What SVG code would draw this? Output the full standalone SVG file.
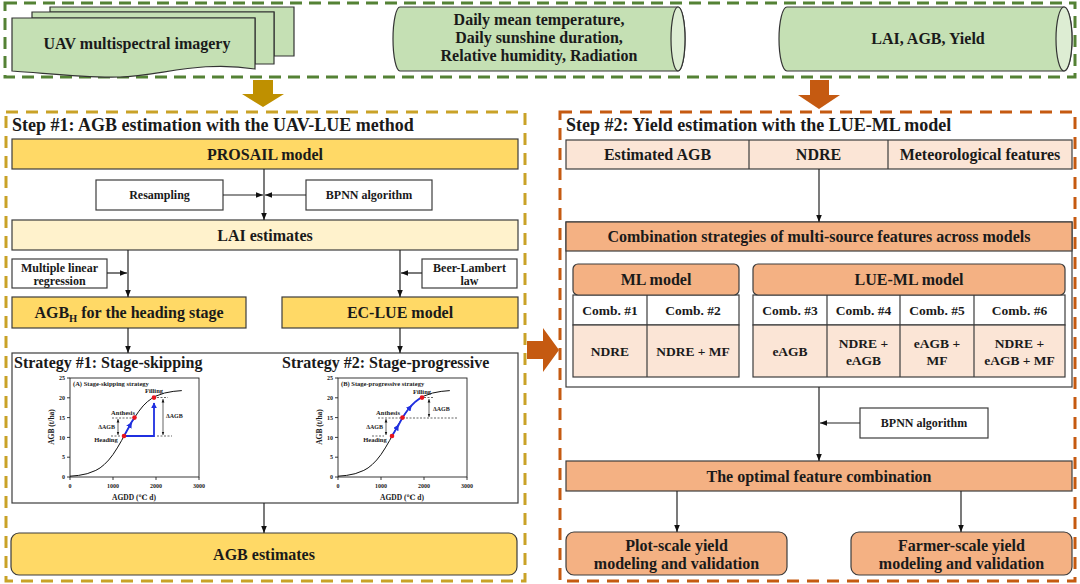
<svg xmlns="http://www.w3.org/2000/svg" width="1080" height="584" viewBox="0 0 1080 584">
<style>
.f{font-family:"Liberation Serif","DejaVu Serif",serif;font-weight:bold;fill:#1a1a1a}
.c{text-anchor:middle}
.e{text-anchor:end}
.s17{font-size:18px}.s16{font-size:16px}.s15{font-size:16px}.s14{font-size:14px}.s13{font-size:13.5px}.s12{font-size:12px}.s11{font-size:12px}
.s7{font-size:7.5px}.s6{font-size:6.5px}.s5{font-size:6px}
.bx{stroke:#3c3c3c;stroke-width:1.2}
.yel{fill:#FFD966}.lyel{fill:#FFF2CC}.pch{fill:#FBE5D6}.org{fill:#F4B183}.wht{fill:#fff}.grn{fill:#C5E0B4}
.conn{stroke:#222;stroke-width:1.2;fill:none;marker-end:url(#ah)}
.ax{stroke:#222;stroke-width:0.9;fill:none}
.dsh{stroke:#222;stroke-width:0.7;stroke-dasharray:2 1.5;fill:none}
.dbl{stroke:#222;stroke-width:0.7;fill:none;marker-start:url(#ahs);marker-end:url(#ahs)}
.blu{stroke:#1f2fe0;stroke-width:1.8;fill:none}
.red{fill:#e8141e}
</style>
<defs>
<marker id="ah" viewBox="0 0 10 10" refX="10" refY="5" markerWidth="7" markerHeight="7" markerUnits="userSpaceOnUse" orient="auto-start-reverse"><path d="M0,1 L10,5 L0,9 Z" fill="#111"/></marker>
<marker id="ahs" viewBox="0 0 10 10" refX="10" refY="5" markerWidth="3.5" markerHeight="3.5" markerUnits="userSpaceOnUse" orient="auto-start-reverse"><path d="M0,1 L10,5 L0,9 Z" fill="#111"/></marker>
<marker id="ahb" viewBox="0 0 10 10" refX="9" refY="5" markerWidth="6" markerHeight="6" markerUnits="userSpaceOnUse" orient="auto"><path d="M0,0 L10,5 L0,10 Z" fill="#1f2fe0"/></marker>
<g id="chartBase">
<rect x="70" y="378" width="129" height="99" class="ax"/>
<path class="ax" d="M67,477H70M67,457.2H70M67,437.4H70M67,417.6H70M67,397.8H70M67,378H70M70,477V480M113,477V480M156,477V480M199,477V480"/>
<g class="f s5 e"><text x="65" y="479">0</text><text x="65" y="459">5</text><text x="65" y="439.5">10</text><text x="65" y="420">15</text><text x="65" y="400">20</text><text x="65" y="380">25</text></g>
<g class="f s5 c"><text x="70" y="488">0</text><text x="113" y="488">1000</text><text x="156" y="488">2000</text><text x="199" y="488">3000</text></g>
<text class="f s7 c" x="134" y="500">AGDD (℃ d)</text>
<text class="f s7 c" transform="translate(54,427) rotate(-90)">AGB (t/ha)</text>
<path d="M70,476.2 L78.6,475.4 87.2,473.7 95.8,470.4 100.1,467.9 104.4,464.4 108.7,460 113,454.5 117.3,447.9 121.6,440.5 125.9,432.6 130.2,424.8 134.5,417.6 138.8,411.3 143.1,405.9 147.4,401.7 151.7,398.5 156,396 164.6,393 173.2,391.4 181.8,390.6" fill="none" stroke="#111" stroke-width="1"/>
</g>
</defs>

<!-- top input band -->
<rect x="5" y="3" width="1070" height="74" fill="none" stroke="#548235" stroke-width="3" stroke-dasharray="12 7"/>
<g id="uav">
<path class="grn" stroke="#333" stroke-width="1.2" d="M50,7 H294 V56 H274 V12 H50 Z"/>
<path class="grn" stroke="#333" stroke-width="1.2" d="M32,12 H274 V64 H255 V18 H32 Z"/>
<path class="grn" stroke="#333" stroke-width="1.2" d="M12,18 H255 V69 C200,60 160,76 120,77 C80,78 45,73 12,71 Z"/>
<text class="f s15 c" x="137" y="49">UAV multispectral imagery</text>
</g>
<g id="meteo">
<path class="grn" stroke="#333" stroke-width="1.2" d="M400,7 H678 A7,32 0 0 1 678,71 H400 A7,32 0 0 1 400,7 Z"/>
<ellipse cx="678" cy="39" rx="7" ry="32" fill="#DDEDD3" stroke="#333" stroke-width="1.2"/>
<text class="f s15 c" x="539" y="25">Daily mean temperature,</text>
<text class="f s15 c" x="539" y="43">Daily sunshine duration,</text>
<text class="f s15 c" x="539" y="61">Relative humidity, Radiation</text>
</g>
<g id="field">
<path class="grn" stroke="#333" stroke-width="1.2" d="M787,7 H1064 A8,32 0 0 1 1064,71 H787 A8,32 0 0 1 787,7 Z"/>
<ellipse cx="1064" cy="39" rx="8" ry="32" fill="#DDEDD3" stroke="#333" stroke-width="1.2"/>
<text class="f s15 c" x="928" y="44">LAI, AGB, Yield</text>
</g>
<polygon points="253,80 273,80 273,94 284,94 263,107 242,94 253,94" fill="#BF9000"/>
<polygon points="810,80 829,80 829,95 840,95 819,109 798,95 810,95" fill="#C55A11"/>
<polygon points="527,341 543,341 543,328 559,350 543,372 543,359 527,359" fill="#C55A11"/>

<!-- Step 1 -->
<rect x="6" y="112" width="519" height="469" fill="none" stroke="#C9A227" stroke-width="3" stroke-dasharray="12 8"/>
<text class="f s17" x="12" y="131">Step #1: AGB estimation with the UAV-LUE method</text>
<g id="prosail"><rect class="bx yel" x="12" y="139" width="506" height="30"/><text class="f s15 c" x="265" y="159.5">PROSAIL model</text></g>
<g id="resampling"><rect class="bx wht" x="96" y="180" width="127" height="30"/><text class="f s12 c" x="159.5" y="199">Resampling</text></g>
<g id="bpnn1"><rect class="bx wht" x="306" y="180" width="126" height="30"/><text class="f s12 c" x="369" y="199">BPNN algorithm</text></g>
<g id="lai"><rect class="bx lyel" x="12" y="220" width="506" height="30"/><text class="f s15 c" x="265" y="240.5">LAI estimates</text></g>
<g id="mlr"><rect class="bx wht" x="12" y="259" width="95" height="29"/><text class="f s11 c" x="59.5" y="272">Multiple linear</text><text class="f s11 c" x="59.5" y="285">regression</text></g>
<g id="beer"><rect class="bx wht" x="422" y="259" width="95" height="29"/><text class="f s11 c" x="469.5" y="272">Beer-Lambert</text><text class="f s11 c" x="469.5" y="285">law</text></g>
<g id="agbh"><rect class="bx yel" x="12" y="297" width="234" height="31"/><text class="f s15 c" x="129" y="318">AGB<tspan font-size="10.5" dy="4">H</tspan><tspan dy="-4"> for the heading stage</tspan></text></g>
<g id="eclue"><rect class="bx yel" x="282" y="297" width="236" height="31"/><text class="f s15 c" x="400" y="318">EC-LUE model</text></g>
<g id="strategies">
<rect class="bx wht" x="12" y="353" width="506" height="150"/>
<text class="f s16" x="14" y="368">Strategy #1: Stage-skipping</text>
<text class="f s16" x="282" y="368">Strategy #2: Stage-progressive</text>
<g id="chartA">
<use href="#chartBase"/>
<text class="f s6" x="73" y="386">(A) Stage-skipping strategy</text>
<path class="dsh" d="M112,418H133M111,436H121M157,397.5H168M157,436H172"/>
<line class="dbl" x1="118" y1="419" x2="118" y2="435"/>
<line class="dbl" x1="163" y1="399" x2="163" y2="435"/>
<text class="f s5 e" x="115" y="429">ΔAGB</text>
<text class="f s5" x="166" y="418">ΔAGB</text>
<path class="blu" d="M125,436H154V403" marker-end="url(#ahb)"/>
<line class="blu" x1="124" y1="436" x2="131.5" y2="422.5" marker-end="url(#ahb)"/>
<line class="blu" x1="131" y1="423" x2="134.5" y2="417.6"/>
<circle class="red" cx="124" cy="436" r="2.3"/><circle class="red" cx="134.5" cy="417.6" r="2.3"/><circle class="red" cx="154" cy="397.6" r="2.3"/>
<text class="f s6 c" x="154" y="393">Filling</text>
<text class="f s6 c" x="123" y="415">Anthesis</text>
<text class="f s6 c" x="106" y="442">Heading</text>
</g>
<g id="chartB">
<use href="#chartBase" transform="translate(268,0)"/>
<text class="f s6" x="341" y="386">(B) Stage-progressive strategy</text>
<path class="dsh" d="M378,418H458M372,436H384M424,397.5H434"/>
<line class="dbl" x1="386" y1="419" x2="386" y2="435"/>
<line class="dbl" x1="429" y1="399" x2="429" y2="417"/>
<text class="f s5 e" x="383" y="429">ΔAGB</text>
<text class="f s5" x="433" y="411">ΔAGB</text>
<line class="blu" x1="392" y1="436" x2="398.5" y2="425" marker-end="url(#ahb)"/>
<line class="blu" x1="398" y1="426" x2="402.5" y2="417.6"/>
<path class="blu" d="M402.5,417.6 L406.8,411.3 411.5,405.5" marker-end="url(#ahb)"/>
<path class="blu" d="M411,406 L415.4,401.7 419.7,398.5 422,397.4"/>
<circle class="red" cx="392" cy="436" r="2.3"/><circle class="red" cx="402.5" cy="417.6" r="2.3"/><circle class="red" cx="422" cy="397.6" r="2.3"/>
<text class="f s6 c" x="422" y="394">Filling</text>
<text class="f s6 c" x="388" y="415">Anthesis</text>
<text class="f s6 c" x="375" y="442">Heading</text>
</g>
</g>
<g id="agbest"><rect class="bx yel" x="11" y="533" width="506" height="42" rx="8"/><text class="f s15 c" x="264" y="559.5">AGB estimates</text></g>

<!-- Step 2 -->
<rect x="560" y="112" width="515" height="469" fill="none" stroke="#C55A11" stroke-width="3" stroke-dasharray="12 8"/>
<text class="f s17" x="566" y="131">Step #2: Yield estimation with the LUE-ML model</text>
<g id="features">
<rect class="bx pch" x="566" y="140" width="506" height="29"/>
<line class="bx" x1="749" y1="140" x2="749" y2="169"/><line class="bx" x1="888" y1="140" x2="888" y2="169"/>
<text class="f s15 c" x="657.5" y="160">Estimated AGB</text>
<text class="f s15 c" x="818.5" y="160">NDRE</text>
<text class="f s15 c" x="980" y="160">Meteorological features</text>
</g>
<g id="combination">
<rect class="bx wht" x="566" y="222" width="506" height="165"/>
<rect class="bx org" x="566" y="222" width="506" height="29"/>
<text class="f s15 c" x="819" y="242">Combination strategies of multi-source features across models</text>
</g>
<g id="mlmodel">
<rect class="bx wht" x="573" y="295" width="166" height="30"/>
<rect class="bx pch" x="573" y="325" width="166" height="52"/>
<line class="bx" x1="647" y1="295" x2="647" y2="377"/>
<rect class="bx org" x="573" y="264" width="166" height="31" rx="5"/>
<text class="f s15 c" x="656" y="285">ML model</text>
<text class="f s13 c" x="610" y="315">Comb. #1</text>
<text class="f s13 c" x="693" y="315">Comb. #2</text>
<text class="f s13 c" x="610" y="356">NDRE</text>
<text class="f s13 c" x="693" y="356">NDRE + MF</text>
</g>
<g id="luemlmodel">
<rect class="bx wht" x="753" y="295" width="312" height="30"/>
<rect class="bx pch" x="753" y="325" width="312" height="52"/>
<path class="bx" d="M827,295V377M900,295V377M974,295V377"/>
<rect class="bx org" x="753" y="264" width="312" height="31" rx="5"/>
<text class="f s15 c" x="909" y="285">LUE-ML model</text>
<text class="f s13 c" x="790" y="315">Comb. #3</text>
<text class="f s13 c" x="863.5" y="315">Comb. #4</text>
<text class="f s13 c" x="937" y="315">Comb. #5</text>
<text class="f s13 c" x="1019.5" y="315">Comb. #6</text>
<text class="f s13 c" x="790" y="356">eAGB</text>
<text class="f s13 c" x="863.5" y="348">NDRE +</text><text class="f s13 c" x="863.5" y="365">eAGB</text>
<text class="f s13 c" x="937" y="348">eAGB +</text><text class="f s13 c" x="937" y="365">MF</text>
<text class="f s13 c" x="1019.5" y="348">NDRE +</text><text class="f s13 c" x="1019.5" y="365">eAGB + MF</text>
</g>
<g id="bpnn2"><rect class="bx wht" x="860" y="408" width="128" height="30"/><text class="f s12 c" x="924" y="427">BPNN algorithm</text></g>
<g id="optimal"><rect class="bx org" x="566" y="461" width="506" height="30"/><text class="f s15 c" x="819" y="481.5">The optimal feature combination</text></g>
<g id="plotscale"><rect class="bx org" x="566" y="532" width="221" height="43" rx="8"/><text class="f s15 c" x="676.5" y="551">Plot-scale yield</text><text class="f s15 c" x="676.5" y="569">modeling and validation</text></g>
<g id="farmerscale"><rect class="bx org" x="851" y="532" width="221" height="43" rx="8"/><text class="f s15 c" x="961.5" y="551">Farmer-scale yield</text><text class="f s15 c" x="961.5" y="569">modeling and validation</text></g>

<g id="connectors">
<path class="conn" d="M264,169V220"/>
<path class="conn" d="M223,195H263"/>
<path class="conn" d="M306,195H265"/>
<path class="conn" d="M128,250V297"/>
<path class="conn" d="M400,250V297"/>
<path class="conn" d="M107,273H127"/>
<path class="conn" d="M422,273H401"/>
<path class="conn" d="M128,328V353"/>
<path class="conn" d="M400,328V353"/>
<path class="conn" d="M264,503V533"/>
<path class="conn" d="M819,169V222"/>
<path class="conn" d="M819,387V461"/>
<path class="conn" d="M860,423H820"/>
<path class="conn" d="M677,491V532"/>
<path class="conn" d="M961,491V532"/>
</g>
</svg>
